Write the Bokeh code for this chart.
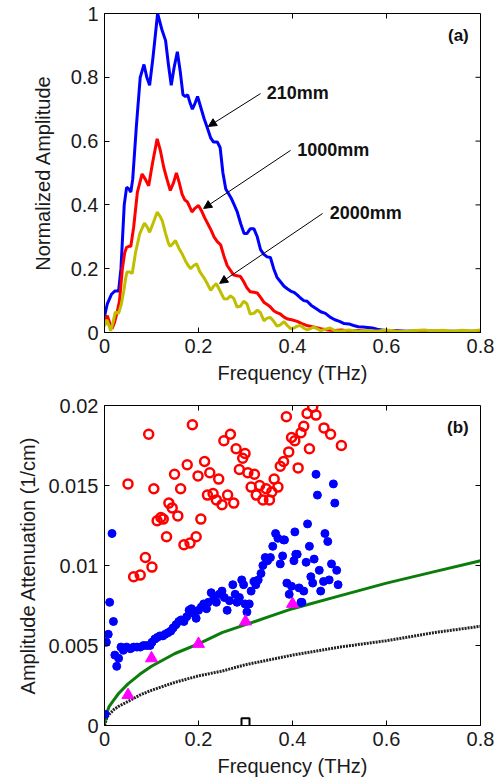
import math
from bokeh.plotting import figure
from bokeh.models import (FixedTicker, Range1d, Label, Arrow, NormalHead,
                          CustomJSTickFormatter)
from bokeh.layouts import column
from bokeh.embed import file_html
from bokeh.resources import INLINE

FONT = "Liberation Sans"

# ---------------- Panel (a) data ----------------
freq_210 = [0.000, 0.006, 0.015, 0.022, 0.030, 0.035, 0.042, 0.047, 0.052, 0.056, 0.060, 0.068,
            0.076, 0.084, 0.090, 0.096, 0.103, 0.113, 0.122, 0.130, 0.136, 0.142, 0.148, 0.155,
            0.161, 0.167, 0.172, 0.177, 0.182, 0.187, 0.193, 0.198, 0.204, 0.212, 0.218, 0.226,
            0.232, 0.240, 0.246, 0.252, 0.258, 0.264, 0.270, 0.276, 0.282, 0.290, 0.297, 0.303,
            0.310, 0.318, 0.325, 0.332, 0.339, 0.346, 0.353, 0.360, 0.367, 0.374, 0.382, 0.389,
            0.396, 0.403, 0.410, 0.417, 0.424, 0.431, 0.440, 0.450, 0.460, 0.470, 0.480, 0.490,
            0.500, 0.510, 0.520, 0.530, 0.540, 0.550, 0.560, 0.570, 0.580, 0.590, 0.600, 0.620,
            0.640, 0.660, 0.680, 0.700, 0.720, 0.740, 0.760, 0.780, 0.800]
amp_210 = [0.050, 0.090, 0.120, 0.130, 0.130, 0.200, 0.400, 0.455, 0.450, 0.440, 0.480, 0.650,
           0.800, 0.840, 0.800, 0.775, 0.860, 1.000, 0.950, 0.915, 0.840, 0.775, 0.830, 0.880,
           0.820, 0.745, 0.740, 0.745, 0.720, 0.700, 0.720, 0.740, 0.710, 0.670, 0.645, 0.610,
           0.597, 0.597, 0.580, 0.500, 0.450, 0.435, 0.420, 0.400, 0.380, 0.340, 0.310, 0.310,
           0.325, 0.325, 0.300, 0.260, 0.245, 0.237, 0.235, 0.200, 0.173, 0.160, 0.145, 0.137,
           0.130, 0.126, 0.118, 0.108, 0.100, 0.098, 0.085, 0.075, 0.065, 0.060, 0.048, 0.040,
           0.035, 0.028, 0.027, 0.022, 0.018, 0.017, 0.016, 0.014, 0.010, 0.008, 0.006, 0.006,
           0.004, 0.005, 0.003, 0.004, 0.003, 0.004, 0.003, 0.004, 0.003]

freq_1000 = [0.000, 0.006, 0.011, 0.016, 0.021, 0.027, 0.032, 0.038, 0.043, 0.047, 0.052, 0.056,
             0.062, 0.070, 0.080, 0.087, 0.094, 0.102, 0.112, 0.119, 0.126, 0.133, 0.140, 0.147,
             0.153, 0.159, 0.165, 0.171, 0.176, 0.181, 0.186, 0.193, 0.200, 0.207, 0.213, 0.220,
             0.227, 0.233, 0.240, 0.247, 0.254, 0.261, 0.268, 0.275, 0.282, 0.289, 0.296, 0.303,
             0.310, 0.318, 0.325, 0.332, 0.339, 0.346, 0.353, 0.360, 0.367, 0.374, 0.382, 0.390,
             0.398, 0.410, 0.420, 0.430, 0.445, 0.460, 0.475, 0.490, 0.505, 0.520, 0.540, 0.560,
             0.600, 0.650, 0.700, 0.750, 0.800]
amp_1000 = [0.030, 0.053, 0.030, 0.012, 0.030, 0.064, 0.100, 0.200, 0.250, 0.267, 0.270, 0.270,
            0.330, 0.440, 0.497, 0.480, 0.460, 0.530, 0.607, 0.570, 0.518, 0.480, 0.445, 0.470,
            0.500, 0.470, 0.434, 0.415, 0.410, 0.395, 0.378, 0.390, 0.398, 0.380, 0.360, 0.340,
            0.320, 0.300, 0.285, 0.275, 0.240, 0.210, 0.195, 0.180, 0.178, 0.176, 0.160, 0.140,
            0.128, 0.126, 0.124, 0.110, 0.095, 0.088, 0.080, 0.068, 0.062, 0.058, 0.048, 0.042,
            0.040, 0.035, 0.028, 0.022, 0.017, 0.012, 0.008, 0.006, 0.008, 0.005, 0.006, 0.004,
            0.004, 0.003, 0.004, 0.003, 0.003]

freq_2000 = [0.000, 0.005, 0.010, 0.013, 0.018, 0.023, 0.030, 0.036, 0.041, 0.045, 0.048, 0.054,
             0.059, 0.066, 0.075, 0.085, 0.091, 0.096, 0.104, 0.112, 0.118, 0.123, 0.130, 0.136,
             0.140, 0.146, 0.151, 0.158, 0.165, 0.172, 0.178, 0.183, 0.190, 0.196, 0.203, 0.211,
             0.218, 0.226, 0.232, 0.238, 0.246, 0.254, 0.261, 0.268, 0.275, 0.282, 0.289, 0.296,
             0.303, 0.310, 0.318, 0.325, 0.332, 0.339, 0.346, 0.353, 0.360, 0.367, 0.374, 0.382,
             0.389, 0.396, 0.403, 0.410, 0.417, 0.424, 0.431, 0.438, 0.445, 0.452, 0.460, 0.470,
             0.480, 0.490, 0.500, 0.520, 0.540, 0.560, 0.580, 0.600, 0.620, 0.640, 0.660, 0.680,
             0.700, 0.720, 0.740, 0.760, 0.780, 0.800]
amp_2000 = [0.020, 0.040, 0.020, 0.005, 0.030, 0.064, 0.060, 0.090, 0.130, 0.170, 0.190, 0.190,
            0.185, 0.250, 0.310, 0.343, 0.330, 0.314, 0.345, 0.377, 0.365, 0.350, 0.310, 0.280,
            0.270, 0.280, 0.288, 0.265, 0.247, 0.225, 0.210, 0.200, 0.210, 0.215, 0.190, 0.173,
            0.155, 0.132, 0.145, 0.153, 0.130, 0.106, 0.105, 0.115, 0.107, 0.080, 0.082, 0.098,
            0.090, 0.058, 0.060, 0.070, 0.062, 0.037, 0.045, 0.047, 0.035, 0.020, 0.024, 0.034,
            0.022, 0.012, 0.014, 0.020, 0.022, 0.014, 0.008, 0.012, 0.018, 0.012, 0.006, 0.010,
            0.014, 0.006, 0.004, 0.008, 0.004, 0.006, 0.004, 0.008, 0.005, 0.003, 0.006, 0.008,
            0.005, 0.007, 0.004, 0.007, 0.005, 0.008]

# ---------------- Panel (b) data ----------------
open_f = [0.050, 0.062, 0.076, 0.087, 0.094, 0.101, 0.105, 0.112, 0.120, 0.125, 0.132, 0.137,
          0.144, 0.149, 0.156, 0.162, 0.169, 0.176, 0.182, 0.187, 0.195, 0.199, 0.205, 0.213,
          0.219, 0.224, 0.231, 0.238, 0.243, 0.250, 0.254, 0.262, 0.268, 0.275, 0.280, 0.287,
          0.294, 0.299, 0.305, 0.312, 0.319, 0.323, 0.330, 0.337, 0.344, 0.351, 0.356, 0.361,
          0.369, 0.374, 0.381, 0.387, 0.392, 0.398, 0.405, 0.412, 0.418, 0.424, 0.431, 0.436,
          0.443, 0.450, 0.467, 0.481, 0.504]
open_v = [0.0151, 0.0093, 0.0094, 0.0105, 0.0182, 0.0099, 0.0148, 0.0128, 0.0130, 0.0129, 0.0118,
          0.0139, 0.0136, 0.0157, 0.0131, 0.0148, 0.0113, 0.0163, 0.0114, 0.0188, 0.0118, 0.0156,
          0.0129, 0.0165, 0.0144, 0.0158, 0.0145, 0.0141, 0.0154, 0.0138, 0.0178, 0.0144, 0.0182,
          0.0139, 0.0173, 0.0160, 0.0167, 0.0170, 0.0158, 0.0149, 0.0157, 0.0144, 0.0150, 0.0141,
          0.0148, 0.0141, 0.0146, 0.0154, 0.0149, 0.0162, 0.0165, 0.0193, 0.0171, 0.0180, 0.0178,
          0.0161, 0.0183, 0.0187, 0.0195, 0.0173, 0.0199, 0.0194, 0.0186, 0.0182, 0.0175]

dot_f = [0.001, 0.004, 0.008, 0.011, 0.016, 0.019, 0.022, 0.026, 0.030, 0.035, 0.040, 0.047,
         0.055, 0.062, 0.069, 0.076, 0.083, 0.090, 0.097, 0.101, 0.107, 0.112, 0.118, 0.124,
         0.129, 0.135, 0.141, 0.146, 0.152, 0.158, 0.163, 0.169, 0.175, 0.180, 0.185, 0.190,
         0.195, 0.200, 0.206, 0.211, 0.217, 0.221, 0.227, 0.233, 0.238, 0.244, 0.250, 0.255,
         0.261, 0.266, 0.273, 0.278, 0.282, 0.287, 0.292, 0.296, 0.299, 0.303, 0.308, 0.312,
         0.318, 0.322, 0.327, 0.333, 0.337, 0.342, 0.347, 0.353, 0.358, 0.364, 0.369, 0.374,
         0.379, 0.383, 0.388, 0.393, 0.398, 0.403, 0.405, 0.410, 0.414, 0.420, 0.424, 0.429,
         0.432, 0.436, 0.439, 0.443, 0.446, 0.450, 0.453, 0.457, 0.460, 0.466, 0.469, 0.475,
         0.478, 0.483, 0.487, 0.490, 0.494, 0.497, 0.381, 0.407, 0.418]
dot_v = [0.0007, 0.0052, 0.0057, 0.0077, 0.0120, 0.0065, 0.0044, 0.0037, 0.0042, 0.0049, 0.0047,
         0.0049, 0.0048, 0.0049, 0.0049, 0.0049, 0.0050, 0.0050, 0.0050, 0.0052, 0.0054, 0.0055,
         0.0056, 0.0056, 0.0057, 0.0058, 0.0059, 0.0061, 0.0063, 0.0065, 0.0066, 0.0065, 0.0068,
         0.0072, 0.0073, 0.0070, 0.0067, 0.0072, 0.0074, 0.0076, 0.0073, 0.0077, 0.0083, 0.0080,
         0.0077, 0.0082, 0.0084, 0.0080, 0.0072, 0.0078, 0.0088, 0.0082, 0.0077, 0.0080, 0.0091,
         0.0088, 0.0076, 0.0071, 0.0076, 0.0084, 0.0090, 0.0088, 0.0091, 0.0095, 0.0100, 0.0105,
         0.0103, 0.0105, 0.0112, 0.0120, 0.0117, 0.0101, 0.0106, 0.0116, 0.0089, 0.0082, 0.0087,
         0.0103, 0.0121, 0.0107, 0.0086, 0.0077, 0.0084, 0.0102, 0.0126, 0.0112, 0.0093, 0.0089,
         0.0104, 0.0157, 0.0144, 0.0097, 0.0084, 0.0090, 0.0120, 0.0115, 0.0091, 0.0101, 0.0151,
         0.0139, 0.0097, 0.0088, 0.0116, 0.0107, 0.0077]

tri_f = [0.05, 0.10, 0.20, 0.30, 0.40]
tri_v = [0.0019, 0.0042, 0.0051, 0.0065, 0.0076]

sq_f = [0.30]
sq_v = [0.0002]

model_f = [0.000, 0.005, 0.010, 0.020, 0.030, 0.050, 0.075, 0.100, 0.150, 0.200, 0.250, 0.300,
           0.350, 0.400, 0.500, 0.600, 0.700, 0.800]
green_v = [0.0001, 0.0008, 0.0012, 0.0016, 0.0020, 0.0026, 0.0032, 0.0037, 0.0045, 0.0051,
           0.0058, 0.0063, 0.0068, 0.0073, 0.0081, 0.0089, 0.0096, 0.0103]
black_v = [0.0000, 0.0005, 0.0007, 0.0010, 0.0012, 0.0015, 0.0019, 0.0022, 0.0027, 0.0031,
           0.0034, 0.0038, 0.0041, 0.0044, 0.0049, 0.0053, 0.0058, 0.0062]

x_ticks = [0, 0.2, 0.4, 0.6, 0.8]
ya_ticks = [0, 0.2, 0.4, 0.6, 0.8, 1.0]
yb_ticks = [0, 0.005, 0.01, 0.015, 0.02]

fmt_code = "return String(Math.round(tick*100000)/100000);"


def style_axis(ax, ticks, label, standoff):
    ax.ticker = FixedTicker(ticks=ticks)
    ax.major_tick_in = 5
    ax.major_tick_out = 0
    ax.minor_tick_in = 0
    ax.minor_tick_out = 0
    ax.axis_line_color = "black"
    ax.axis_line_width = 1
    ax.major_tick_line_color = "black"
    ax.formatter = CustomJSTickFormatter(code=fmt_code)
    ax.major_label_text_font = FONT
    ax.major_label_text_font_size = "20px"
    ax.major_label_text_color = "#1a1a1a"
    ax.major_label_standoff = 6
    ax.axis_label = label
    ax.axis_label_text_font = FONT
    ax.axis_label_text_font_size = "20px"
    ax.axis_label_text_font_style = "normal"
    ax.axis_label_text_color = "#1a1a1a"
    ax.axis_label_standoff = standoff


def make_fig(height, top, yrange, yticks, ylabel, ystand):
    p = figure(width=494, height=height, x_range=Range1d(0, 0.8), y_range=Range1d(*yrange),
               output_backend="svg", toolbar_location=None,
               min_border_left=104, min_border_right=14, min_border_top=top,
               min_border_bottom=58)
    p.xgrid.visible = False
    p.ygrid.visible = False
    p.outline_line_color = "black"
    p.outline_line_width = 1
    p.background_fill_color = "white"
    p.border_fill_color = "white"
    style_axis(p.xaxis[0], x_ticks, "Frequency (THz)", 6)
    style_axis(p.yaxis[0], yticks, ylabel, ystand)
    # inward ticks on the top and right edges of the box
    p.ray(x=x_ticks, y=[yrange[1]] * len(x_ticks), length=5, length_units="screen",
          angle=-math.pi / 2, color="black", line_width=1)
    p.ray(x=[0.8] * len(yticks), y=yticks, length=5, length_units="screen",
          angle=math.pi, color="black", line_width=1)
    return p


# ---------------- Panel (a) ----------------
p1 = make_fig(390, 13, (0, 1), ya_ticks, "Normalized Amplitude", 14)
p1.line(freq_210, amp_210, color="#0000ff", line_width=3)
p1.line(freq_1000, amp_1000, color="#ff0000", line_width=3)
p1.line(freq_2000, amp_2000, color="#bfbf00", line_width=3)

arrows_a = [((0.332, 0.749), (0.221, 0.646)),
            ((0.396, 0.571), (0.211, 0.389)),
            ((0.464, 0.373), (0.245, 0.154))]
for (xs, ys), (xe, ye) in arrows_a:
    p1.add_layout(Arrow(end=NormalHead(size=8, fill_color="black", line_color="black"),
                        x_start=xs, y_start=ys, x_end=xe, y_end=ye,
                        line_color="black", line_width=1))
for txt, xx, yy in [("210mm", 0.345, 0.750), ("1000mm", 0.410, 0.571), ("2000mm", 0.479, 0.376)]:
    p1.add_layout(Label(x=xx, y=yy, text=txt, text_font=FONT, text_font_size="18px",
                        text_font_style="bold", text_baseline="middle", text_color="#111111"))
p1.add_layout(Label(x=0.775, y=0.93, text="(a)", text_font=FONT, text_font_size="17px",
                    text_font_style="bold", text_baseline="middle", text_align="right",
                    text_color="#111111"))

# ---------------- Panel (b) ----------------
p2 = make_fig(393, 15, (0, 0.02), yb_ticks, "Amplitude Attenuation (1/cm)", 6)
p2.line(model_f, black_v, color="#222222", line_width=3, line_dash="2 1")
p2.line(model_f, green_v, color="#0a7d0a", line_width=3)
p2.scatter(open_f, open_v, marker="circle", size=9, fill_color=None, line_color="#ff0000",
           line_width=2.5)
p2.scatter(dot_f, dot_v, marker="circle", size=8, fill_color="#0000ff", line_color="#0000ff")
p2.scatter(tri_f, tri_v, marker="triangle", size=12, fill_color="#ff00ff", line_color="#ff00ff")
p2.scatter(sq_f, sq_v, marker="square", size=8, fill_color=None, line_color="black",
           line_width=2)
p2.add_layout(Label(x=0.775, y=0.0186, text="(b)", text_font=FONT, text_font_size="17px",
                    text_font_style="bold", text_baseline="middle", text_align="right",
                    text_color="#111111"))

layout = column(p1, p2, spacing=0)
open("out.html", "w").write(file_html(layout, INLINE))
